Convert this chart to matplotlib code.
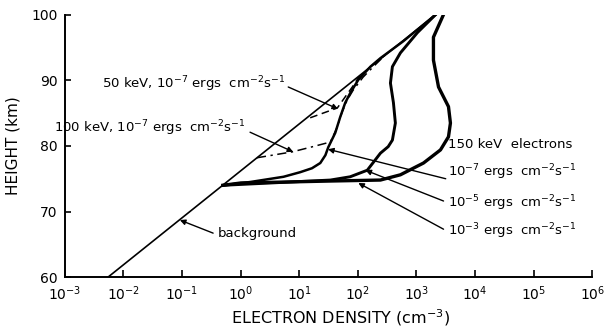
import matplotlib
matplotlib.use("Agg")
import matplotlib.pyplot as plt

# background profile (straight in log-linear)
bg_dens = [5.5e-3, 2.1e3]
bg_h = [60, 100]

# 150 keV electrons, three fluxes
f7_dens = [0.50, 1.45, 5.4, 10.4, 16.5, 22.9, 28, 31.3, 41.2, 50, 61, 74.5, 102, 164, 243, 600, 2100]
f7_h = [74.0, 74.5, 75.3, 76.0, 76.6, 77.4, 78.6, 79.8, 82.0, 84.4, 86.6, 88.1, 90.1, 92.1, 93.4, 96.0, 100]

f5_dens = [0.50, 34, 74, 145, 243, 330, 389, 437, 405, 360, 389, 532, 1040, 2100]
f5_h = [74.0, 74.8, 75.3, 76.3, 78.9, 79.9, 80.9, 83.5, 86.6, 89.6, 92.1, 94.2, 97.3, 100]

f3_dens = [0.50, 1.0, 34, 243, 532, 1320, 2570, 3520, 3800, 3520, 2380, 1950, 1950, 2880]
f3_h = [74.0, 74.35, 74.65, 74.8, 75.6, 77.4, 79.4, 81.4, 83.5, 86.0, 89.0, 93.1, 96.6, 100]

# 100 keV, 1e-7 (dash-dot) and 50 keV, 1e-7 (dashed)
k100_dens = [1.9, 7.6, 15.5, 34, 44.7, 54, 66, 83, 123, 184, 295]
k100_h = [78.2, 79.1, 79.8, 80.6, 82.9, 85.2, 87.0, 88.5, 90.5, 92.1, 93.9]

k50_dens = [15.4, 44.7, 61, 80.5, 102, 145, 200, 295]
k50_h = [84.3, 85.8, 87.5, 89.0, 90.4, 91.6, 92.7, 93.9]

flux_unit = r" ergs  cm$^{-2}$s$^{-1}$"

plt.rcParams['font.family'] = ['DejaVu Sans']
plt.rcParams['mathtext.fontset'] = 'dejavusans'

fig = plt.figure(figsize=(6.05, 3.31), dpi=100)
ax = fig.add_axes([0.107, 0.163, 0.872, 0.792])

ax.plot(bg_dens, bg_h, color='black', lw=1.2)
ax.plot(f7_dens, f7_h, color='black', lw=1.8, solid_joinstyle='round')
ax.plot(f5_dens, f5_h, color='black', lw=2.1, solid_joinstyle='round')
ax.plot(f3_dens, f3_h, color='black', lw=2.4, solid_joinstyle='round')
ax.plot(k100_dens, k100_h, color='black', lw=1.1, linestyle=(0, (6, 3, 1.5, 3)))
ax.plot(k50_dens, k50_h, color='black', lw=1.1, linestyle=(0, (5, 3)))

ax.set_xscale('log')
ax.set_xlim(1e-3, 1e6)
ax.set_ylim(60, 100)
ax.set_yticks([60, 70, 80, 90, 100])
ax.set_xticks([10.0 ** k for k in range(-3, 7)])
ax.minorticks_off()
ax.tick_params(direction='in', length=5, width=1.2, labelsize=10, pad=5)
ax.tick_params(axis='y', length=4, pad=5)
for s in ['top', 'right']:
    ax.spines[s].set_visible(False)
for s in ['left', 'bottom']:
    ax.spines[s].set_linewidth(1.4)

ax.set_xlabel(r"ELECTRON DENSITY (cm$^{-3}$)", fontsize=11.5)
ax.xaxis.set_label_coords(0.524, -0.115)
ax.set_ylabel("HEIGHT (km)", fontsize=11, labelpad=8)

arrow = dict(arrowstyle='-|>', color='black', lw=1.0, mutation_scale=8,
             shrinkA=0, shrinkB=0)


def label(text, xy, tail, pos, ha):
    ax.text(pos[0], pos[1], text, ha=ha, va='center', fontsize=9.5)
    ax.annotate('', xy=xy, xytext=tail, arrowprops=arrow)


label(r"50 keV, $10^{-7}$" + flux_unit, (46, 85.65), (6.5, 89.0), (5.8, 89.5), 'right')
label(r"100 keV, $10^{-7}$" + flux_unit, (7.9, 79.1), (1.45, 82.1), (1.2, 82.75), 'right')
ax.text(3400, 80.15, "150 keV  electrons", ha='left', va='center', fontsize=9.5)
label(r"$10^{-7}$" + flux_unit, (31, 79.5), (3160, 75.0), (3400, 76.0), 'left')
label(r"$10^{-5}$" + flux_unit, (135, 76.3), (2900, 71.6), (3400, 71.3), 'left')
label(r"$10^{-3}$" + flux_unit, (102, 74.35), (2900, 67.3), (3400, 67.0), 'left')
label("background", (0.092, 68.7), (0.34, 66.7), (0.41, 66.6), 'left')

fig.savefig("out.png", dpi=100)
